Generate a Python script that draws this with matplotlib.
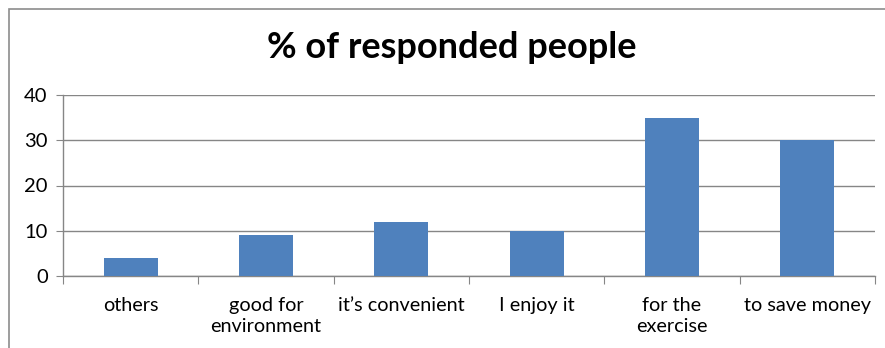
import matplotlib.pyplot as plt
from matplotlib.patches import Rectangle

categories = ['others', 'good for\nenvironment', 'it\u2019s convenient', 'I enjoy it',
              'for the\nexercise', 'to save money']
values = [4, 9, 12, 10, 35, 30]
yticks = [0, 10, 20, 30, 40]

plt.rcParams['font.family'] = ['Lato', 'DejaVu Sans']

fig = plt.figure(figsize=(8.85, 3.48), dpi=100)
ax = fig.add_axes([63 / 885, 1 - 276 / 348, 812 / 885, 181 / 348])

# outer chart frame
fig.patches.append(Rectangle((9 / 885, -0.1), 1.0, 1 - 9 / 348 + 0.1,
                             transform=fig.transFigure, fill=False,
                             edgecolor='#8c8c8c', linewidth=1.2))

x = list(range(len(categories)))
ax.bar(x, values, width=0.4, color='#4F81BD', zorder=3)

ax.set_xlim(-0.5, len(categories) - 0.5)
ax.set_ylim(0, 40)
ax.set_yticks(yticks)
ax.yaxis.grid(True, color='#868686', linewidth=1.0, zorder=0)

# separators between categories as major ticks, labels on minor ticks
ax.set_xticks([i + 0.5 for i in x[:-1]] + [-0.5, len(categories) - 0.5], minor=False)
ax.set_xticklabels([])
ax.set_xticks(x, minor=True)
ax.set_xticklabels(categories, minor=True, fontsize=14.3, linespacing=1.3)
ax.tick_params(axis='x', which='major', length=6, color='#868686', direction='out')
ax.tick_params(axis='x', which='minor', length=0, pad=15)
ax.tick_params(axis='y', length=5, color='#868686', labelsize=14.5, pad=6)

for side in ('top', 'right'):
    ax.spines[side].set_visible(False)
for side in ('left', 'bottom'):
    ax.spines[side].set_color('#868686')
    ax.spines[side].set_linewidth(1.0)

fig.text(452 / 885, 1 - 47 / 348, '% of responded people', ha='center', va='center',
         fontsize=26, fontweight='bold')

fig.savefig('out.png', dpi=100)
